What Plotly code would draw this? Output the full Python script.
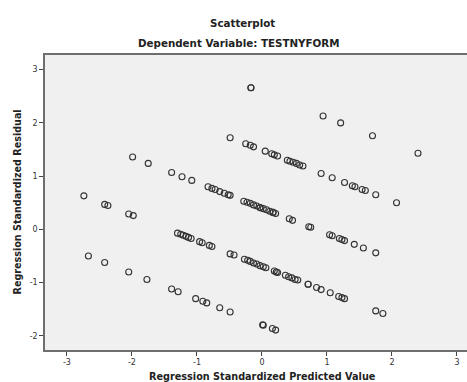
import plotly.graph_objects as go

# Regression standardized predicted values (x) and residuals (y), grouped by band
pred_a = [-0.17, -0.17, 0.94, 1.21, 1.70, 2.40]
resid_a = [2.66, 2.66, 2.13, 2.00, 1.76, 1.43]

pred_b = [-0.49, -0.25, -0.18, -0.13, 0.05, 0.15, 0.19, 0.24, 0.39, 0.43, 0.48, 0.53,
          0.58, 0.63, 0.91, 1.08, 1.27, 1.39, 1.43, 1.54, 1.59, 1.75, 2.07]
resid_b = [1.72, 1.61, 1.58, 1.55, 1.47, 1.42, 1.40, 1.38, 1.30, 1.28, 1.26, 1.24,
           1.21, 1.19, 1.05, 0.97, 0.88, 0.82, 0.80, 0.75, 0.73, 0.65, 0.50]

pred_c = [-1.99, -1.75, -1.39, -1.23, -1.08, -0.83, -0.77, -0.72, -0.65, -0.58, -0.52, -0.49,
          -0.28, -0.23, -0.18, -0.13, -0.08, -0.03, -0.03, 0.02, 0.07, 0.12, 0.17, 0.17, 0.21,
          0.42, 0.47, 0.72, 0.75, 1.04, 1.08, 1.19, 1.23, 1.27, 1.42, 1.56, 1.75]
resid_c = [1.36, 1.24, 1.07, 0.99, 0.92, 0.80, 0.77, 0.75, 0.71, 0.68, 0.65, 0.64,
           0.53, 0.51, 0.49, 0.46, 0.44, 0.41, 0.41, 0.39, 0.37, 0.34, 0.32, 0.32, 0.30,
           0.20, 0.17, 0.05, 0.04, -0.10, -0.12, -0.17, -0.19, -0.21, -0.28, -0.35, -0.44]

pred_d = [-2.74, -2.42, -2.37, -2.05, -1.98, -1.30, -1.25, -1.21, -1.17, -1.13, -1.09,
          -0.96, -0.92, -0.81, -0.77, -0.49, -0.43, -0.27, -0.22, -0.18, -0.13, -0.08,
          -0.03, 0.02, 0.06, 0.19, 0.22, 0.24, 0.36, 0.41, 0.46, 0.51, 0.55, 0.71, 0.71,
          0.84, 0.91, 1.05, 1.18, 1.23, 1.27, 1.75, 1.86]
resid_d = [0.63, 0.47, 0.45, 0.29, 0.26, -0.07, -0.09, -0.11, -0.13, -0.15, -0.17,
           -0.23, -0.25, -0.30, -0.32, -0.46, -0.48, -0.56, -0.58, -0.60, -0.63, -0.65,
           -0.68, -0.70, -0.72, -0.78, -0.80, -0.81, -0.86, -0.89, -0.91, -0.94, -0.95, -1.03, -1.03,
           -1.09, -1.13, -1.19, -1.26, -1.28, -1.30, -1.53, -1.58]

pred_e = [-2.67, -2.42, -2.05, -1.77, -1.39, -1.29, -1.02, -0.91, -0.85, -0.65, -0.49,
          0.01, 0.02, 0.16, 0.21]
resid_e = [-0.50, -0.62, -0.80, -0.94, -1.12, -1.17, -1.30, -1.35, -1.38, -1.47, -1.55,
           -1.79, -1.80, -1.86, -1.89]

x_ticks = [-3, -2, -1, 0, 1, 2, 3]
x_tick_labels = ["-3", "-2", "-1", "0", "1", "2", "3"]
y_ticks = [-2, -1, 0, 1, 2, 3]
y_tick_labels = ["-2", "-1", "0", "1", "2", "3"]

x_all = pred_a + pred_b + pred_c + pred_d + pred_e
y_all = resid_a + resid_b + resid_c + resid_d + resid_e

FONT = "DejaVu Sans"

fig = go.Figure()
fig.add_trace(go.Scatter(
    x=x_all, y=y_all, mode="markers",
    marker=dict(symbol="circle-open", size=6, color="#333333", line=dict(width=1.1, color="#333333")),
    showlegend=False, hoverinfo="skip",
))

axis_common = dict(
    showgrid=False, zeroline=False, showline=True, linecolor="#6e6e6e", linewidth=1.5,
    ticks="outside", ticklen=4, tickwidth=1, tickcolor="#444",
    tickfont=dict(family=FONT, size=8, color="#333"),
)

fig.update_xaxes(range=[-3.338, 3.154], tickvals=x_ticks, ticktext=x_tick_labels,
                 mirror=True, **axis_common)
fig.update_yaxes(range=[-2.264, 3.275], tickvals=y_ticks, ticktext=y_tick_labels,
                 **axis_common)

def px_x(px):
    return (px - 45) / 422.0

def px_y(py):
    return (350 - py) / 295.0

annotations = [
    dict(text="<b>Scatterplot</b>", x=px_x(242), y=px_y(23), font=dict(family=FONT, size=10.3, color="#222")),
    dict(text="<b>Dependent Variable: TESTNYFORM</b>", x=px_x(238), y=px_y(43), font=dict(family=FONT, size=10.3, color="#222")),
    dict(text="<b>Regression Standardized Predicted Value</b>", x=px_x(262), y=px_y(376), font=dict(family=FONT, size=9.7, color="#222")),
    dict(text="<b>Regression Standardized Residual</b>", x=px_x(17), y=px_y(202.5), textangle=-90, font=dict(family=FONT, size=9.6, color="#222")),
]
for a in annotations:
    a.update(xref="paper", yref="paper", xanchor="center", yanchor="middle", showarrow=False)

fig.update_layout(
    width=467, height=382,
    margin=dict(l=45, r=0, t=55, b=32),
    paper_bgcolor="white", plot_bgcolor="#f0f0f0",
    annotations=annotations,
)

fig.write_html("out.html")
